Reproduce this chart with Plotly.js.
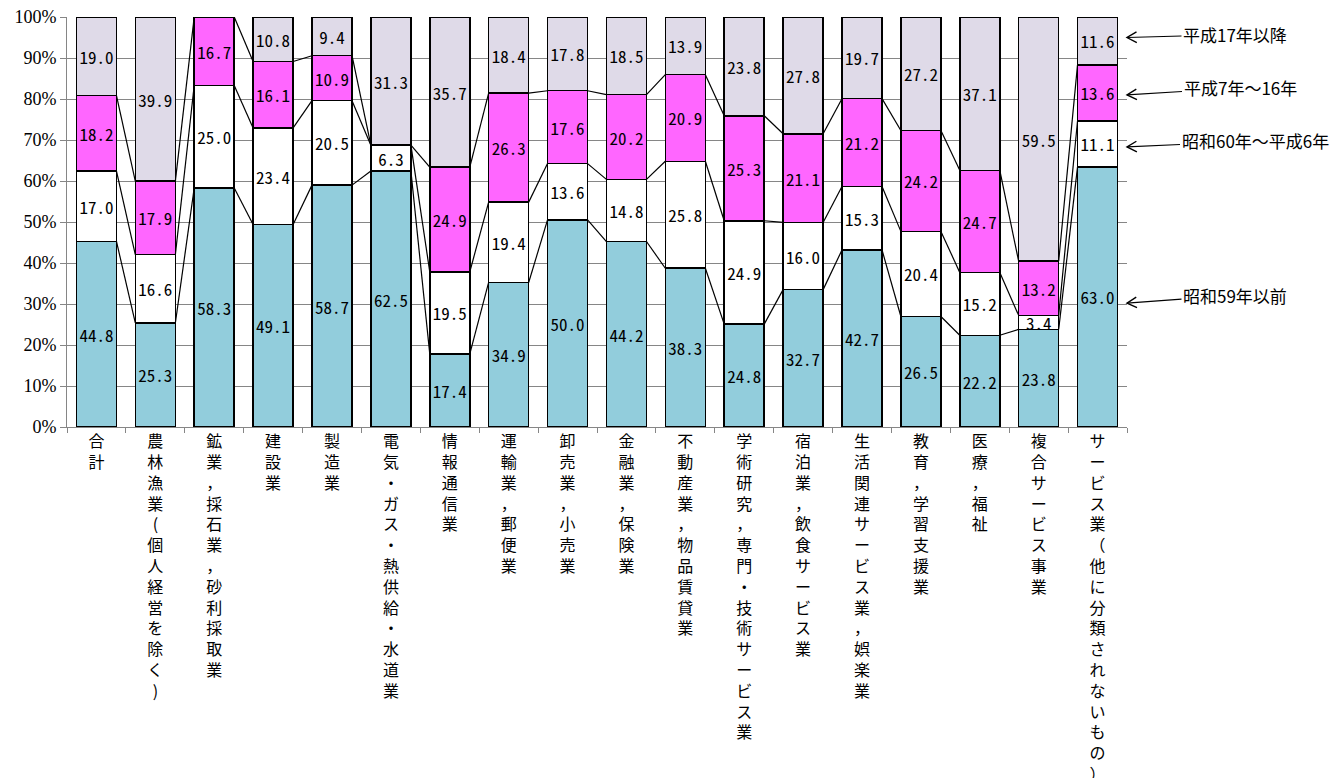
<!DOCTYPE html>
<html>
<head>
<meta charset="utf-8">
<script src="https://cdn.plot.ly/plotly-3.0.1.min.js"></script>
<style>
html,body{margin:0;padding:0;background:#fff;}
#chart{width:1341px;height:778px;}
</style>
</head>
<body>
<div id="chart"></div>
<script>
const categories = [
  "合計",
  "農林漁業(個人経営を除く)",
  "鉱業，採石業，砂利採取業",
  "建設業",
  "製造業",
  "電気・ガス・熱供給・水道業",
  "情報通信業",
  "運輸業，郵便業",
  "卸売業，小売業",
  "金融業，保険業",
  "不動産業，物品賃貸業",
  "学術研究，専門・技術サービス業",
  "宿泊業，飲食サービス業",
  "生活関連サービス業，娯楽業",
  "教育，学習支援業",
  "医療，福祉",
  "複合サービス事業",
  "サービス業（他に分類されないもの）"
];
const seriesNames = ["昭和59年以前", "昭和60年～平成6年", "平成7年～16年", "平成17年以降"];
const s1 = [44.8, 25.3, 58.3, 49.1, 58.7, 62.5, 17.4, 34.9, 50.0, 44.2, 38.3, 24.8, 32.7, 42.7, 26.5, 22.2, 23.8, 63.0];
const s2 = [17.0, 16.6, 25.0, 23.4, 20.5, 6.3, 19.5, 19.4, 13.6, 14.8, 25.8, 24.9, 16.0, 15.3, 20.4, 15.2, 3.4, 11.1];
const s3 = [18.2, 17.9, 16.7, 16.1, 10.9, 0, 24.9, 26.3, 17.6, 20.2, 20.9, 25.3, 21.1, 21.2, 24.2, 24.7, 13.2, 13.6];
const s4 = [19.0, 39.9, 0, 10.8, 9.4, 31.3, 35.7, 18.4, 17.8, 18.5, 13.9, 23.8, 27.8, 19.7, 27.2, 37.1, 59.5, 11.6];
const yTicks = [0, 10, 20, 30, 40, 50, 60, 70, 80, 90, 100];

const series = [s1, s2, s3, s4];
const colors = ["#92CDDC", "#FFFFFF", "#FF66FF", "#DFDAE8"];
const labelX = categories.map(c => Array.from(c).join("<br>"));
const bargap = 0.32;
const bw = 1 - bargap;
const yMax = 100.001;

const traces = series.map((vals, k) => ({
  type: "bar",
  name: seriesNames[k],
  x: labelX,
  y: vals,
  text: vals.map(v => v > 0 ? v.toFixed(1) : ""),
  textposition: "inside",
  insidetextanchor: "middle",
  textangle: 0,
  textfont: {family: "Noto Sans Mono CJK JP, Noto Sans CJK JP, sans-serif", size: 17, color: "#000"},
  marker: {color: colors[k], line: {color: "#000", width: 1.5}},
  hoverinfo: "skip",
  cliponaxis: false
}));

// series connector lines, computed from cumulative normalized values
const shapes = [];
const totals = categories.map((_, i) => series.reduce((a, s) => a + s[i], 0));
for (let k = 0; k < 3; k++) {
  const cum = categories.map((_, i) => {
    let sum = 0;
    for (let j = 0; j <= k; j++) sum += series[j][i];
    return sum / totals[i] * 100;
  });
  for (let i = 0; i < categories.length - 1; i++) {
    shapes.push({
      type: "line", xref: "x", yref: "y",
      x0: i + bw / 2, x1: i + 1 - bw / 2,
      y0: cum[i], y1: cum[i + 1],
      line: {color: "#000", width: 1.2},
      layer: "above"
    });
  }
}

const annoPos = [
  {y: 95, ax: 108, ay: -3},
  {y: 81, ax: 113, ay: -7},
  {y: 68.3, ax: 128, ay: -6},
  {y: 30.2, ax: 108, ay: -8}
];
const annotations = [3, 2, 1, 0].map((k, idx) => ({
  xref: "x", yref: "y",
  x: 17.5, y: annoPos[idx].y,
  ax: annoPos[idx].ax, ay: annoPos[idx].ay,
  axref: "pixel", ayref: "pixel",
  text: seriesNames[k],
  showarrow: true,
  arrowhead: 0,
  arrowwidth: 1.2,
  arrowcolor: "#000",
  font: {family: "Noto Sans CJK JP, sans-serif", size: 17, color: "#000"}
}));
// open chevron arrowheads (paper-referenced so they are not clipped)
annoPos.forEach(p => {
  const ang = Math.atan2(-p.ay, p.ax);
  const L = 11, spread = 0.5;
  const a1 = ang + spread, a2 = ang - spread;
  const pts = [[L * Math.cos(a1), L * Math.sin(a1)], [0, 0], [L * Math.cos(a2), L * Math.sin(a2)]];
  shapes.push({
    type: "path", xref: "paper", yref: "paper",
    xsizemode: "pixel", ysizemode: "pixel",
    xanchor: 1, yanchor: p.y / yMax,
    path: "M" + pts.map(q => q[0].toFixed(2) + "," + q[1].toFixed(2)).join(" L"),
    line: {color: "#000", width: 1.4},
    fillcolor: "rgba(0,0,0,0)"
  });
});

const layout = {
  width: 1341, height: 778,
  autosize: false,
  margin: {l: 67, r: 214, t: 17, b: 351, pad: 0},
  paper_bgcolor: "#fff", plot_bgcolor: "#fff",
  barmode: "stack",
  barnorm: "percent",
  bargap: bargap,
  showlegend: false,
  uniformtext: {mode: "show", minsize: 17},
  xaxis: {
    type: "category",
    range: [-0.5, 17.5],
    tickson: "boundaries",
    ticks: "outside", ticklen: 5, tickcolor: "#868686", tickwidth: 1,
    showline: true, linecolor: "#868686", linewidth: 1,
    showgrid: false, automargin: false,
    tickangle: 0,
    tickfont: {family: "Noto Sans CJK JP, sans-serif", size: 16, color: "#000"}
  },
  yaxis: {
    range: [0, yMax],
    tickmode: "array", tickvals: yTicks, ticktext: yTicks.map(v => v + "%"),
    ticks: "outside", ticklen: 6, tickcolor: "#868686", tickwidth: 1,
    showline: true, linecolor: "#868686", linewidth: 1,
    showgrid: true, gridcolor: "#868686", gridwidth: 1,
    zeroline: false, automargin: false,
    tickfont: {family: "Liberation Serif, serif", size: 18, color: "#000"}
  },
  shapes: shapes,
  annotations: annotations
};

Plotly.newPlot("chart", traces, layout, {displayModeBar: false, staticPlot: true});
</script>
</body>
</html>
